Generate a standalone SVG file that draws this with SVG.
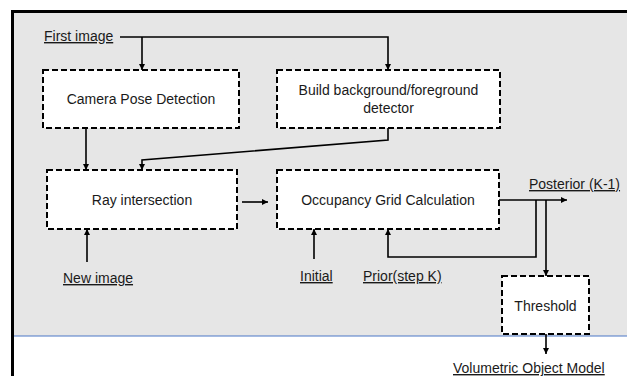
<svg xmlns="http://www.w3.org/2000/svg" width="627" height="376" viewBox="0 0 627 376">
<defs>
<style>
.box{fill:#fff;stroke:#000;stroke-width:2;stroke-dasharray:6 3}
.t{font-family:"Liberation Sans",Arial,sans-serif;font-size:14px;fill:#1a1a1a;text-anchor:middle}
.u{font-family:"Liberation Sans",Arial,sans-serif;font-size:14px;fill:#1a1a1a;text-decoration:underline}
.c{fill:none;stroke:#000;stroke-width:1.6}
</style>
<marker id="ah" viewBox="0 0 10 10" refX="10" refY="5" markerWidth="6" markerHeight="6" markerUnits="userSpaceOnUse" orient="auto">
<path d="M0,0 L10,5 L0,10 z" fill="#000"/>
</marker>
</defs>
<rect x="0" y="0" width="627" height="376" fill="#fff"/>
<rect x="12" y="12" width="615" height="324" fill="#e6e6e6"/>
<line x1="12" y1="11.5" x2="627" y2="11.5" stroke="#000" stroke-width="3"/>
<line x1="12.5" y1="10" x2="12.5" y2="376" stroke="#000" stroke-width="3"/>
<line x1="14" y1="336" x2="627" y2="336" stroke="#4a76c6" stroke-width="1"/>

<g id="connectors">
<path class="c" d="M120,37 H388 V70" marker-end="url(#ah)"/>
<path class="c" d="M142,37 V70" marker-end="url(#ah)"/>
<path class="c" d="M86,128 V170" marker-end="url(#ah)"/>
<path class="c" d="M388,128 V140 L142,160 V170" marker-end="url(#ah)"/>
<path class="c" d="M242,202 H268" marker-end="url(#ah)"/>
<path class="c" d="M87,262 V229" marker-end="url(#ah)"/>
<path class="c" d="M314,259 V229" marker-end="url(#ah)"/>
<path class="c" d="M536,200 V257 H388 V229" marker-end="url(#ah)"/>
<path class="c" d="M499,200 H567" marker-end="url(#ah)"/>
<path class="c" d="M546,200 V276" marker-end="url(#ah)"/>
<path class="c" d="M546,334 V354" marker-end="url(#ah)"/>
</g>

<g id="first-image"><text class="u" x="44" y="41">First image</text></g>

<g id="camera-pose">
<rect class="box" x="43" y="70" width="196" height="58"/>
<text class="t" x="141" y="104">Camera Pose Detection</text>
</g>

<g id="build-bg">
<rect class="box" x="277" y="70" width="223" height="58"/>
<text class="t" x="388.5" y="95">Build background/foreground</text>
<text class="t" x="388.5" y="113">detector</text>
</g>

<g id="ray-intersection">
<rect class="box" x="47" y="170" width="190" height="59"/>
<text class="t" x="142" y="205">Ray intersection</text>
</g>

<g id="occupancy">
<rect class="box" x="277" y="170" width="222" height="59"/>
<text class="t" x="388" y="205">Occupancy Grid Calculation</text>
</g>

<g id="threshold">
<rect class="box" x="502" y="276" width="87" height="58"/>
<text class="t" x="545.5" y="311">Threshold</text>
</g>

<g id="labels">
<text class="u" x="63" y="283">New image</text>
<text class="u" x="300" y="281">Initial</text>
<text class="u" x="363" y="281">Prior(step K)</text>
<text class="u" x="529" y="189">Posterior (K-1)</text>
<text class="u" x="453" y="373">Volumetric Object Model</text>
</g>
</svg>
